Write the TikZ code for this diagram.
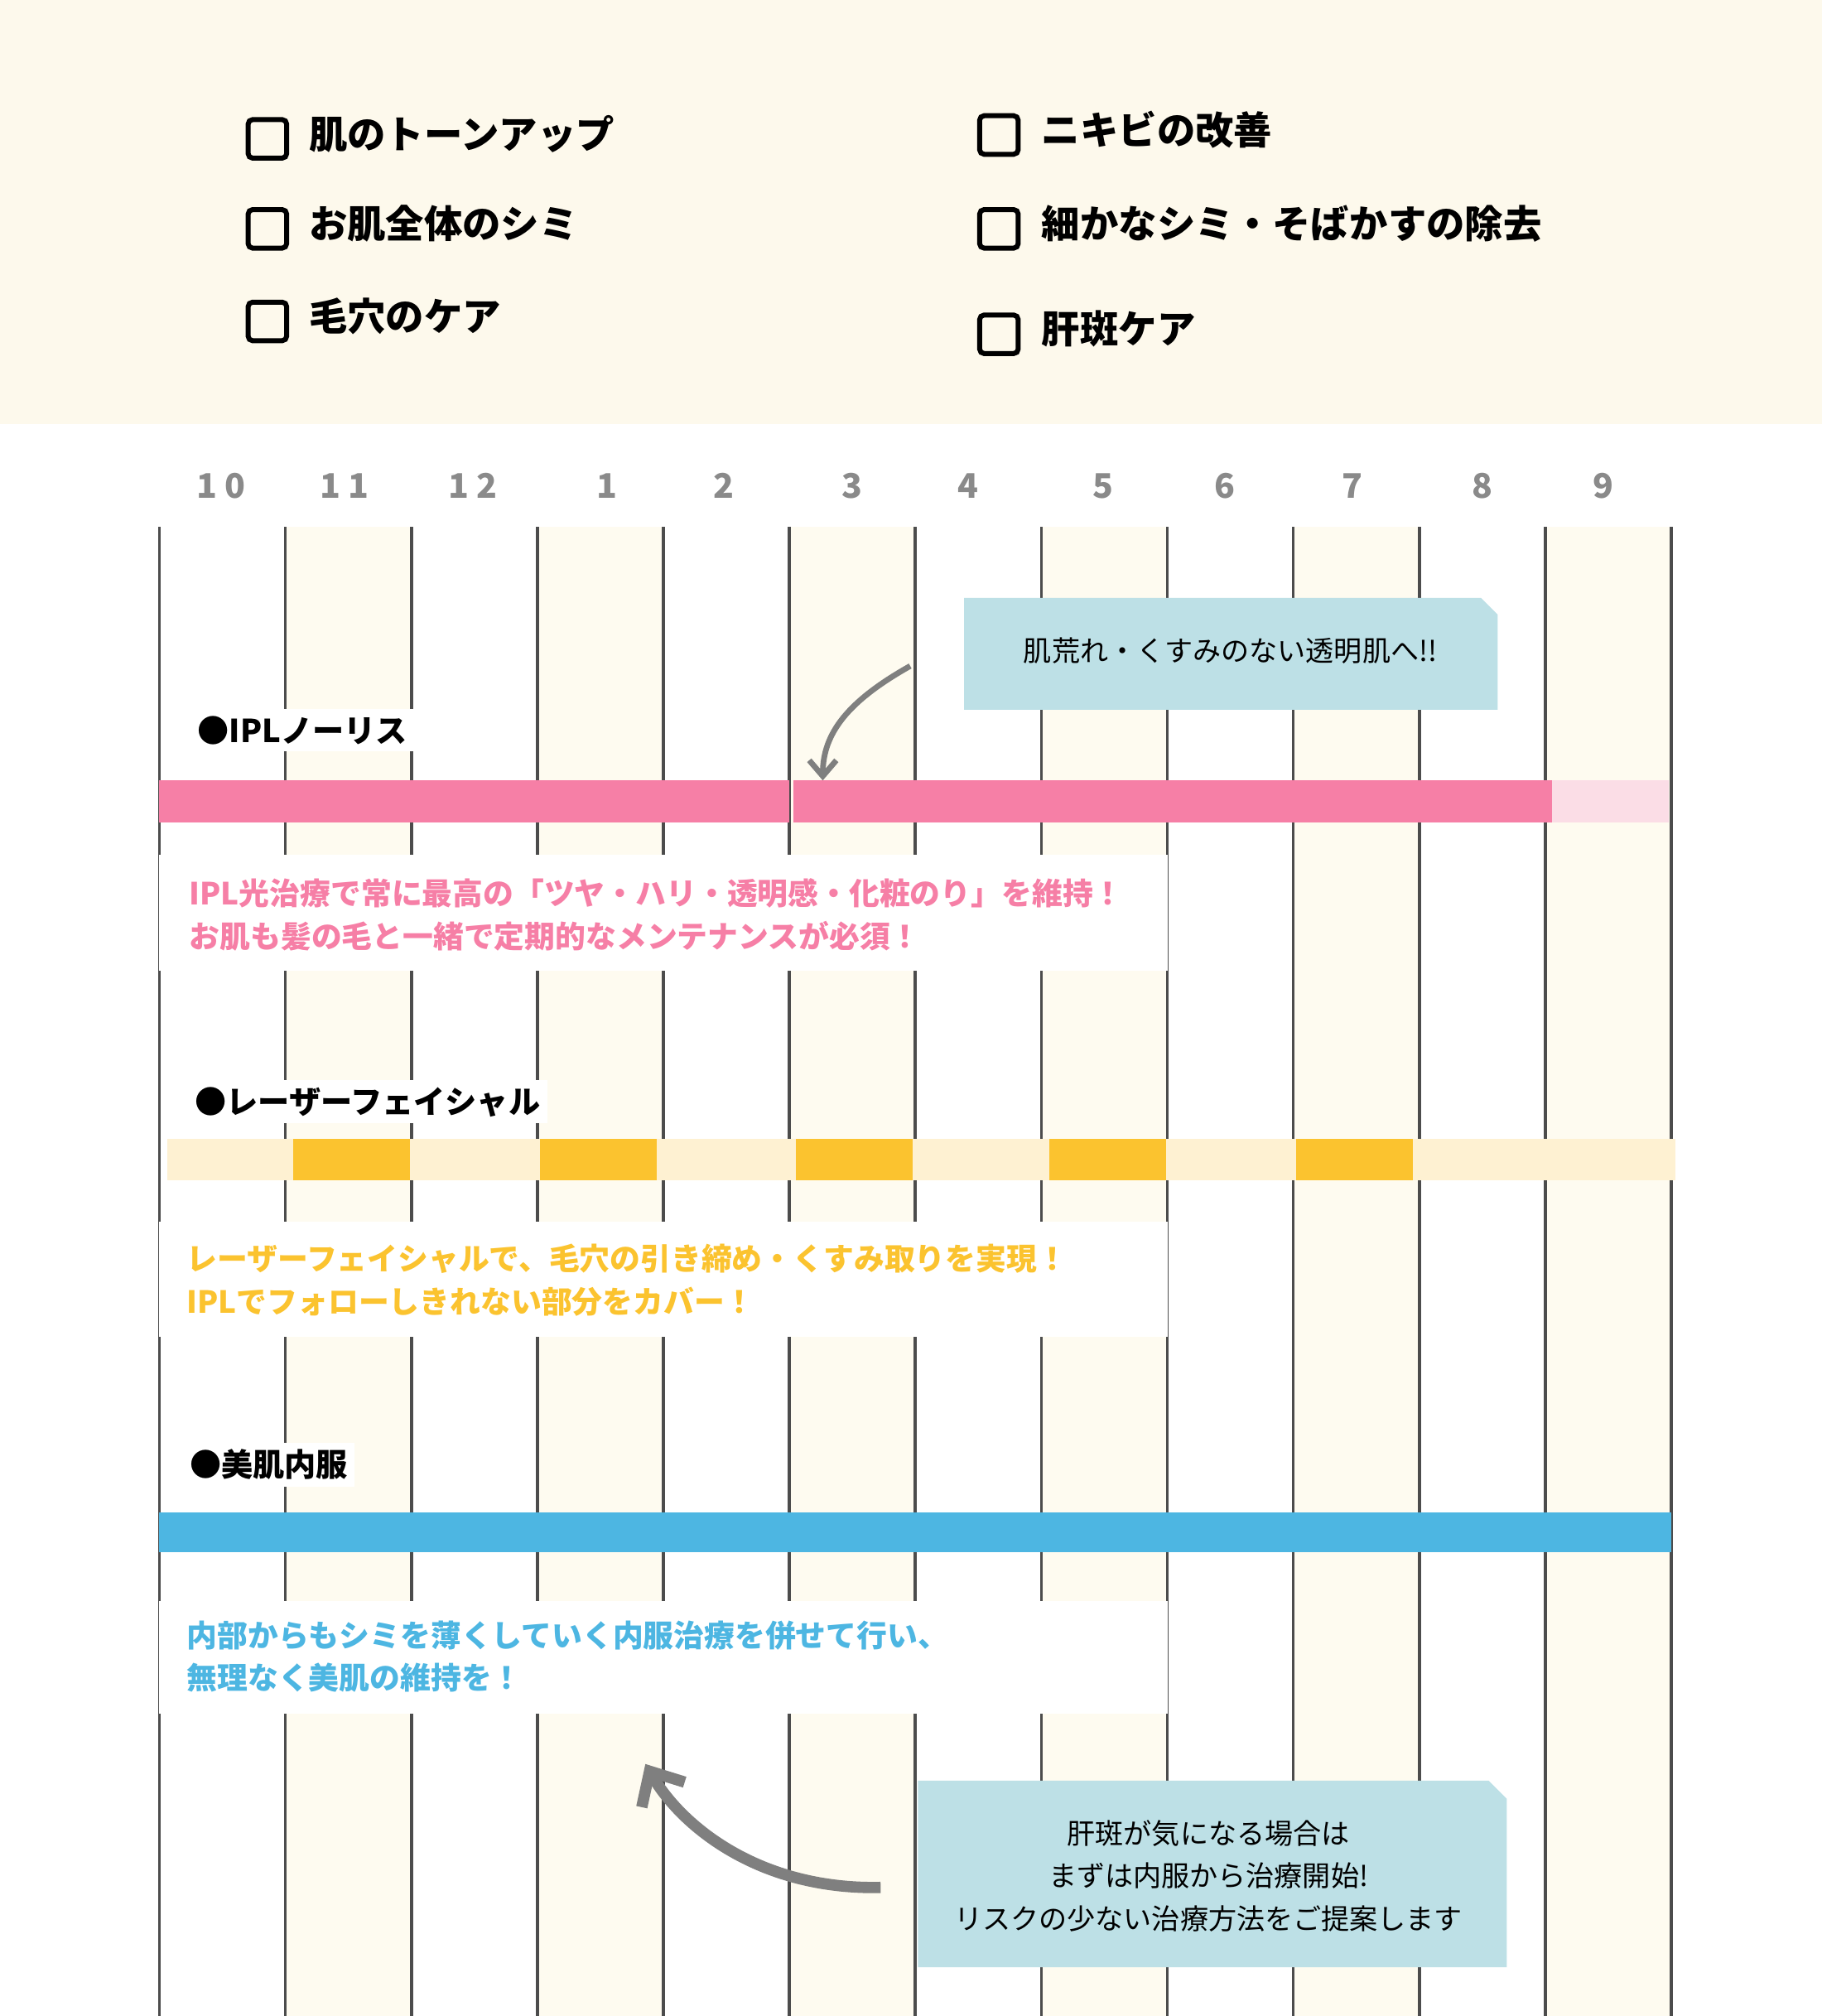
\documentclass[tikz,border=0pt]{standalone}
\usepackage{fontspec}
\setmainfont{Noto Sans CJK JP}
\usetikzlibrary{arrows.meta}
\definecolor{cream}{HTML}{FDF9EC}
\definecolor{colcream}{HTML}{FEFBF0}
\definecolor{pinkbar}{HTML}{F67FA6}
\definecolor{pinklight}{HTML}{FBDDE6}
\definecolor{orangebar}{HTML}{FBC32F}
\definecolor{orangelight}{HTML}{FEF1D2}
\definecolor{bluebar}{HTML}{4DB6E2}
\definecolor{callout}{HTML}{BDE0E6}
\definecolor{monthgray}{HTML}{8A8A8A}
\definecolor{arrowgray}{HTML}{7F7F7F}
\tikzset{
  checkbox/.style={draw=black,line width=2.2pt,rounded corners=2pt,minimum size=0.6cm,inner sep=0pt},
  checktext/.style={anchor=west,font=\fontsize{17}{20}\selectfont\bfseries,inner sep=0pt},
  month/.style={font=\fontsize{15}{18}\selectfont\bfseries,text=monthgray},
  title/.style={anchor=west,font=\fontsize{14}{17}\selectfont\bfseries,fill=white,inner sep=3pt},
  note/.style={anchor=north west,align=left,font=\fontsize{13.5}{19}\selectfont\bfseries,fill=white,inner sep=4pt},
  bubble/.style={font=\fontsize{12.5}{19}\selectfont,align=center}
}
\begin{document}
\begin{tikzpicture}[x=0.02cm,y=-0.02cm]
\useasboundingbox (0,0) rectangle (1417,1568);
\fill[white] (0,0) rectangle (1417,1568);
% top band
\fill[cream] (0,0) rectangle (1417,330);
\foreach \y/\t [count=\i] in {108/肌のトーンアップ,178/お肌全体のシミ,250/毛穴のケア}{
  \node[checkbox] (bl\i) at (208,\y) {};
  \node[checktext] at (240,\y-4) {\t};
}
\foreach \y/\t [count=\i] in {105/ニキビの改善,178/ 細かなシミ・そばかすの除去,260/肝斑ケア}{
  \node[checkbox] (br\i) at (777,\y) {};
  \node[checktext] at (810,\y-4) {\t};
}
% columns
\foreach \i in {1,3,...,11}
  \fill[colcream] (124+98*\i,410) rectangle (222+98*\i,1568);
\foreach \i in {0,...,12}
  \draw[line width=1.3pt,black!70] (124+98*\i,410) -- (124+98*\i,1568);
\foreach \x/\m in {172/1 0,268/1 1,368/1 2,472/1,563/2,663/3,753/4,858/5,953/6,1052/7,1153/8,1247/9}
  \node[month] at (\x,378) {\m};
% IPL
\node[title] (ipl) at (148,568) {●IPLノーリス};
\fill[pinkbar] (124,607) rectangle (614,640);
\fill[pinkbar] (617,607) rectangle (1207,640);
\fill[pinklight] (1207,607) rectangle (1298,640);
\fill[white] (124,665) rectangle (908,755);
\node[note,text=pinkbar] at (140,676) {IPL光治療で常に最高の「ツヤ・ハリ・透明感・化粧のり」を維持！\\お肌も髪の毛と一緒で定期的なメンテナンスが必須！};
% callout 1
\fill[callout] (750,465) -- (1152,465) -- (1165,478) -- (1165,552) -- (750,552) -- cycle;
\node[bubble] (c1) at (957,506) {肌荒れ・くすみのない透明肌へ!!};
\coordinate (a1s) at (708,518);
\coordinate (a1e) at (640,607);
\draw[arrowgray,line width=2.5pt,-{Straight Barb[length=7pt,width=12pt]}] (a1s) .. controls (660,545) and (640,570) .. (a1e);
% laser
\node[title] (laser) at (146,857) {●レーザーフェイシャル};
\fill[orangelight] (130,886) rectangle (1303,918);
\foreach \x in {228,420,619,816,1008}
  \fill[orangebar] (\x,886) rectangle (\x+91,918);
\fill[white] (124,950) rectangle (908,1040);
\node[note,text=orangebar] at (138,960) {レーザーフェイシャルで、毛穴の引き締め・くすみ取りを実現！\\IPLでフォローしきれない部分をカバー！};
% inner
\node[title] (inner) at (142,1139) {●美肌内服};
\fill[bluebar] (124,1176) rectangle (1300,1207);
\fill[white] (124,1245) rectangle (908,1333);
\node[note,text=bluebar] at (138,1253) {内部からもシミを薄くしていく内服治療を併せて行い、\\無理なく美肌の維持を！};
% callout 2
\fill[callout] (714,1385) -- (1158,1385) -- (1172,1399) -- (1172,1530) -- (714,1530) -- cycle;
\node[bubble] (c2) at (940,1459) {肝斑が気になる場合は\\まずは内服から治療開始!\\リスクの少ない治療方法をご提案します};
\coordinate (a2s) at (685,1468);
\coordinate (a2e) at (502,1372);
\draw[arrowgray,line width=5pt,-{Straight Barb[length=12pt,width=22pt]}] (a2s) .. controls (590,1470) and (530,1420) .. (a2e);
\end{tikzpicture}
\end{document}
